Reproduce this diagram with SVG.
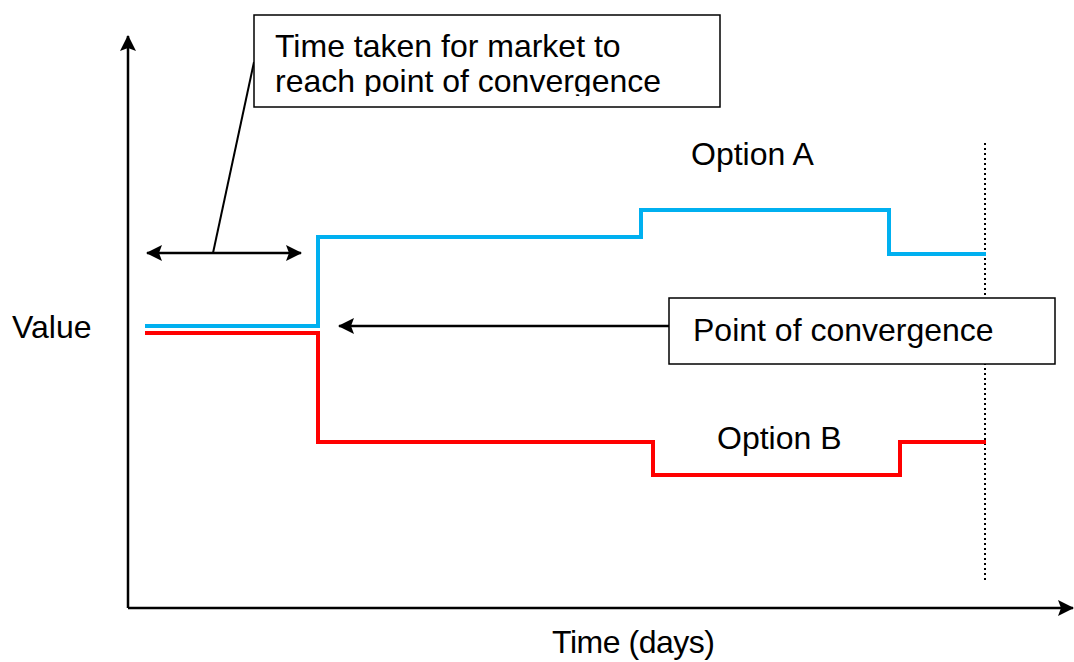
<svg xmlns="http://www.w3.org/2000/svg" width="1074" height="662" viewBox="0 0 1074 662">
<style>
text{font-family:"Liberation Sans",Arial,sans-serif;font-size:32px;fill:#000}
.ax{stroke:#000;stroke-width:2.5;fill:none}
.ln{stroke:#000;stroke-width:2.5;fill:none}
.lead{stroke:#000;stroke-width:2;fill:none}
.box{fill:#fff;stroke:#000;stroke-width:1.5}
.blue{stroke:#00B0F0;stroke-width:4;fill:none}
.red{stroke:#FF0000;stroke-width:4;fill:none}
</style>
<defs>
<marker id="ah" viewBox="0 0 16 16" refX="15" refY="8" markerWidth="16" markerHeight="16" markerUnits="userSpaceOnUse" orient="auto-start-reverse">
<path d="M0,0 L16,8 L0,16 L3,8 Z" fill="#000"/>
</marker>
<clipPath id="c1"><rect x="255" y="16" width="464" height="80"/></clipPath>
</defs>
<g id="axes">
<line class="ax" x1="128" y1="608" x2="128" y2="36" marker-end="url(#ah)"/>
<line class="ax" x1="128" y1="608" x2="1073" y2="608" marker-end="url(#ah)"/>
</g>
<g id="labels">
<text x="12" y="338">Value</text>
<text x="552" y="653" textLength="163">Time (days)</text>
<text x="691" y="165">Option A</text>
<text x="717" y="449">Option B</text>
</g>
<g id="deadline">
<line x1="985" y1="143" x2="985" y2="582" stroke="#000" stroke-width="2" stroke-dasharray="2 3"/>
</g>
<g id="optionA">
<polyline class="blue" points="145,326 318,326 318,237 641,237 641,210 889,210 889,254 986,254"/>
</g>
<g id="optionB">
<polyline class="red" points="145,333 318,333 318,442 653,442 653,475 900,475 900,442 986,442"/>
</g>
<g id="connectors">
<line class="ln" x1="147" y1="253" x2="301" y2="253" marker-start="url(#ah)" marker-end="url(#ah)"/>
<line class="lead" x1="213" y1="253" x2="254" y2="62"/>
<line class="ln" x1="669" y1="326" x2="339" y2="326" marker-end="url(#ah)"/>
</g>
<g id="callout-time">
<rect class="box" x="254" y="15" width="466" height="92"/>
<g clip-path="url(#c1)">
<text x="275" y="57">Time taken for market to</text>
<text x="275" y="92">reach point of convergence</text>
</g>
</g>
<g id="callout-convergence">
<rect class="box" x="669" y="298" width="386" height="66"/>
<text x="693" y="341">Point of convergence</text>
</g>
</svg>
